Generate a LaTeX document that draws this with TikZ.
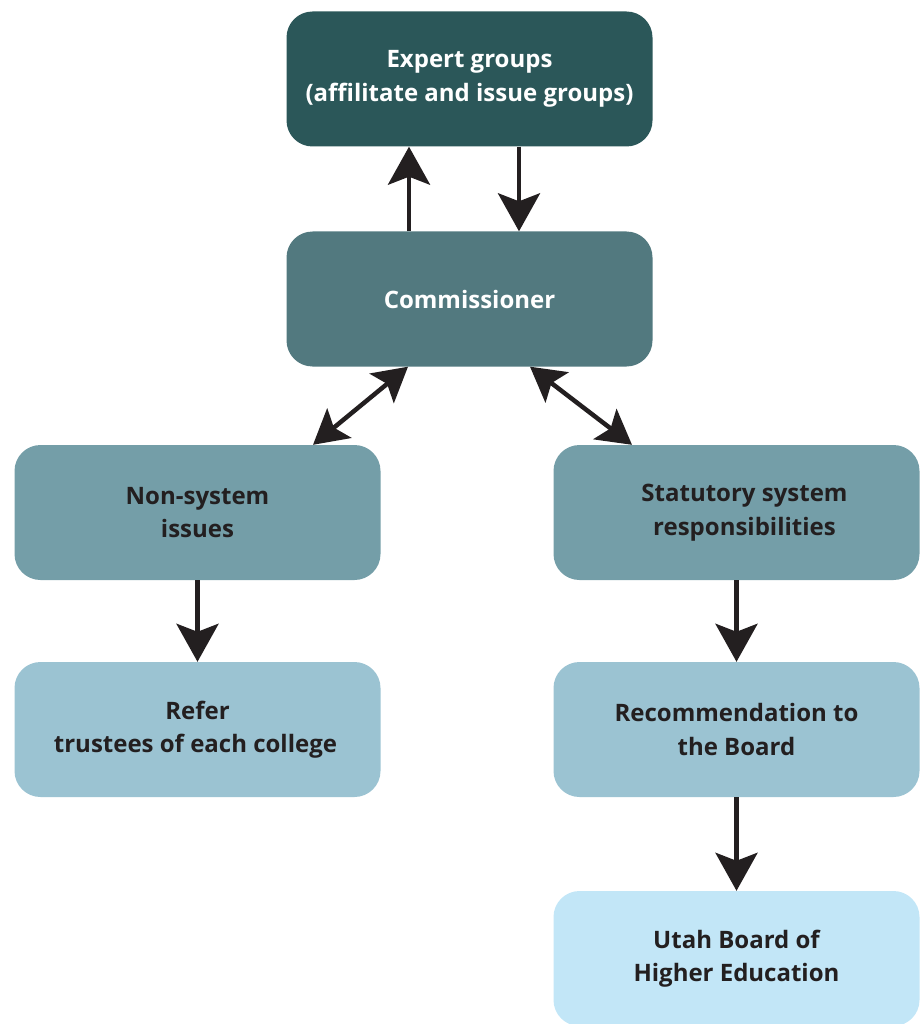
\documentclass[tikz,border=0pt]{standalone}
\usepackage{fontspec}
\setmainfont{Open Sans}
\usetikzlibrary{arrows.meta}
\definecolor{cA}{HTML}{2B5759}
\definecolor{cB}{HTML}{52797F}
\definecolor{cC}{HTML}{749EA8}
\definecolor{cD}{HTML}{9BC3D2}
\definecolor{cE}{HTML}{C2E6F7}
\definecolor{txt}{HTML}{231F20}
\tikzset{
  box/.style={rectangle, rounded corners=26pt, minimum width=366pt, minimum height=135pt,
    align=center, font=\fontsize{24}{33.5}\selectfont\bfseries, text=txt, inner sep=0pt},
  conn/.style={line width=4.5pt, draw=txt, -{Stealth[length=38pt, width=42pt, inset=8pt]}},
  both/.style={line width=4.5pt, draw=txt, {Stealth[length=34pt, width=38pt, inset=7pt]}-{Stealth[length=34pt, width=38pt, inset=7pt]}}
}
\begin{document}
\begin{tikzpicture}[x=1pt, y=-1pt]
\useasboundingbox (0,0) rectangle (921,1024);
\node[box, fill=cA, text=white] (exp) at (469.5,79) {Expert groups\\(affilitate and issue groups)};
\node[box, fill=cB, text=white] (com) at (469.5,299) {Commissioner};
\node[box, fill=cC] (ns) at (197.5,512.5) {Non-system\\issues};
\node[box, fill=cC] (st) at (736.5,512.5) {\hspace*{16pt}Statutory system\\\hspace*{16pt}responsibilities};
\node[box, fill=cD] (ref) at (197.5,729.5) {Refer\\\hspace*{-4pt}trustees of each college};
\node[box, fill=cD] (rec) at (736.5,729.5) {Recommendation to\\the Board};
\node[box, fill=cE] (ubhe) at (736.5,958.5) {Utah Board of\\Higher Education};
\draw[conn] ([xshift=-60.5pt]com.north) -- ([xshift=-60.5pt]exp.south);
\draw[conn] ([xshift=49.5pt]exp.south) -- ([xshift=49.5pt]com.north);
\draw[both] ([xshift=115.5pt]ns.north) -- ([xshift=-61.5pt]com.south);
\draw[both] ([xshift=60.5pt]com.south) -- ([xshift=-104.5pt]st.north);
\draw[conn] (ns.south) -- (ref.north);
\draw[conn] (st.south) -- (rec.north);
\draw[conn] (rec.south) -- (ubhe.north);
\end{tikzpicture}
\end{document}
